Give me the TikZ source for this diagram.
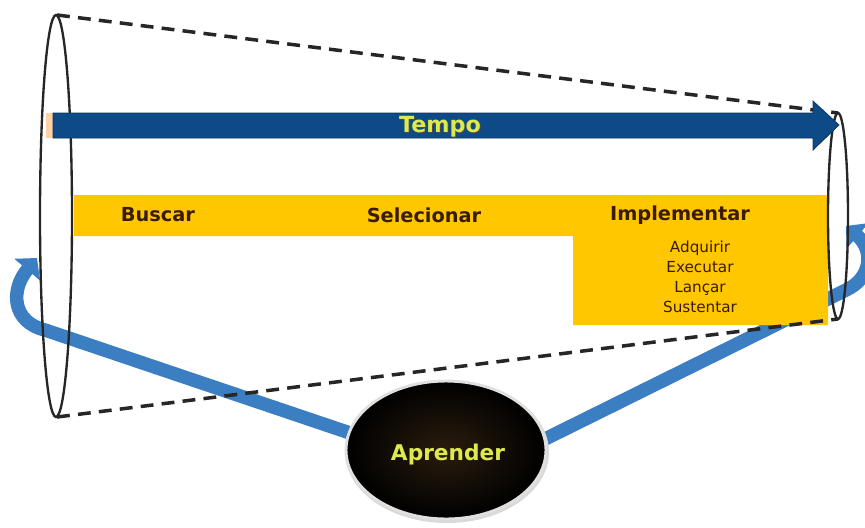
\documentclass[tikz,border=0pt]{standalone}
\usepackage{fontspec}
\setmainfont{DejaVu Sans}
\usetikzlibrary{arrows.meta,shapes.geometric}
\definecolor{band}{HTML}{FFC700}
\definecolor{navy}{HTML}{0E4A86}
\definecolor{loopblue}{HTML}{3C7EC2}
\definecolor{phase}{HTML}{3A1C05}
\definecolor{lime}{HTML}{DDE94C}
\tikzset{
  phasetext/.style={font=\fontsize{16.5}{18}\selectfont\bfseries, text=phase, inner sep=0},
  subtext/.style={font=\fontsize{13}{17}\selectfont, text=phase, align=center, inner sep=0},
  rim/.style={draw=black!85, line width=2pt},
  edge/.style={draw=black!85, line width=3pt, dash pattern=on 11pt off 7pt},
  loop/.style={draw=loopblue, line width=11.5pt, -{Triangle[length=13pt,width=28pt]}},
}
\begin{document}
\begin{tikzpicture}[x=0.03cm,y=-0.03cm]
\useasboundingbox (0,0) rectangle (865,527);

% learning loops, behind everything else
\coordinate (lbend) at (45,330);
\coordinate (ltip) at (37,258);
\coordinate (rbend) at (846,290);
\coordinate (rtip) at (846,226);
\node[ellipse, minimum width=203\pgflinewidth, inner sep=0] (learn) at (446,450) {};
\draw[loop] (350,433) -- (lbend) .. controls (12,322) and (10,290) .. (ltip);
\draw[loop] (543,440) -- (rbend) .. controls (872,278) and (874,250) .. (rtip);

% phase band
\fill[band] (74,195) -- (828,195) -- (828,325) -- (573,325) -- (573,236) -- (74,236) -- cycle;
\node[phasetext] (buscar) at (158,215) {Buscar};
\node[phasetext] (selec) at (424,215) {Selecionar};
\node[phasetext] (impl) at (680,215) {Implementar};
\node[subtext] (subs) at (700,277) {Adquirir\\Executar\\Lançar\\Sustentar};

% funnel: two rims and the dashed sides
\draw[rim] (56,216) ellipse [x radius=16, y radius=201];
\draw[rim] (838,216) ellipse [x radius=10, y radius=103];
\coordinate (ltop) at (57,15);
\coordinate (lbot) at (57,417);
\coordinate (rtop) at (838,113);
\coordinate (rbot) at (838,319);
\draw[edge] (ltop) -- (rtop);
\draw[edge] (lbot) -- (rbot);

% time arrow
\fill[orange!35] (46,113) rectangle (54,138);
\draw[navy!70!black, line width=0.6pt, fill=navy]
  (53,113) -- (813,113) -- (813,101) -- (839,125) -- (813,150) -- (813,138) -- (53,138) -- cycle;
\node[font=\fontsize{19}{20}\selectfont\bfseries, text=black!70, inner sep=0] at (441,128) {Tempo};
\node[font=\fontsize{19}{20}\selectfont\bfseries, text=lime, inner sep=0] (tempo) at (440,127) {Tempo};

% learning hub
\fill[black!15] (447,452) ellipse [x radius=102, y radius=71];
\draw[white!88!black, line width=2.5pt, inner color=black!78!brown, outer color=black]
  (446,450) ellipse [x radius=100, y radius=69];
\node[font=\fontsize{18.5}{20}\selectfont\bfseries, text=lime, inner sep=0] (aprender) at (448,455) {Aprender};
\end{tikzpicture}
\end{document}
